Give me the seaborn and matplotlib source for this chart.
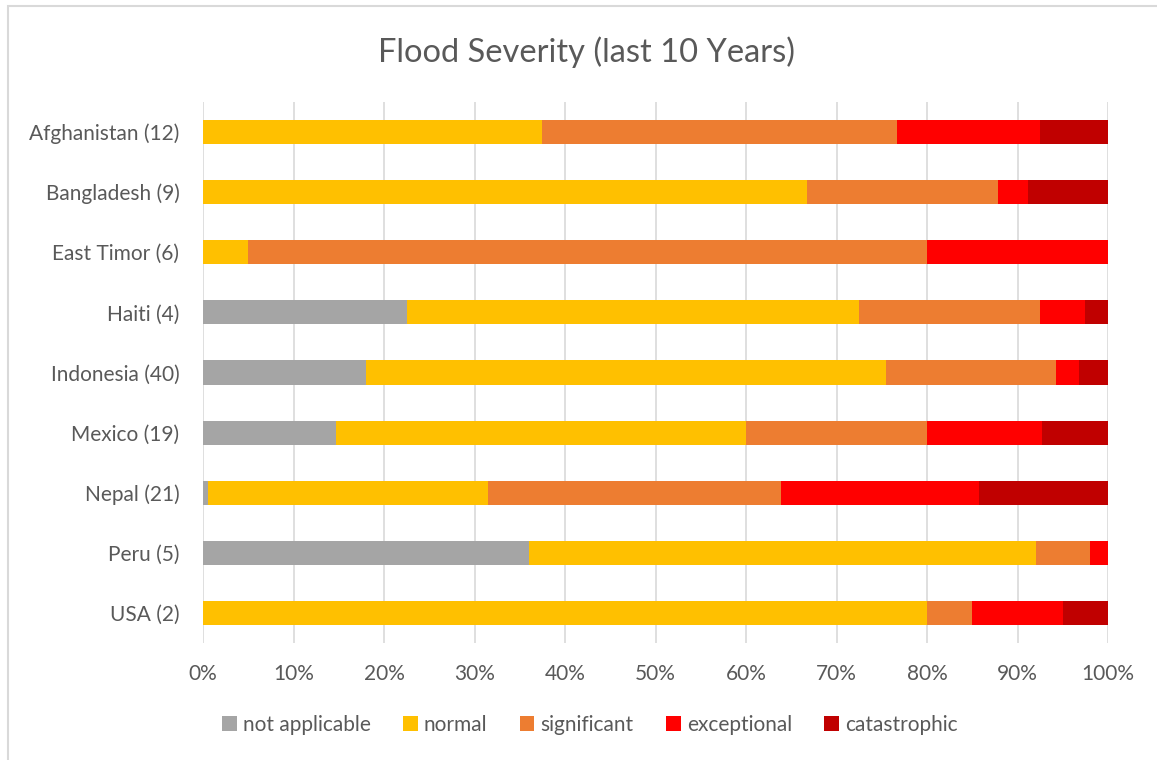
import matplotlib
matplotlib.use("Agg")
import matplotlib.pyplot as plt
import seaborn as sns
import numpy as np
import pandas as pd
from matplotlib.patches import Rectangle, Patch

# Share of flood events per severity class (percent of each country's events)
countries = ["Afghanistan (12)", "Bangladesh (9)", "East Timor (6)", "Haiti (4)",
             "Indonesia (40)", "Mexico (19)", "Nepal (21)", "Peru (5)", "USA (2)"]
not_applicable = [0.0, 0.0, 0.0, 22.5, 18.0, 14.7, 0.5, 36.0, 0.0]
normal = [37.5, 66.7, 5.0, 50.0, 57.5, 45.3, 31.0, 56.0, 80.0]
significant = [39.2, 21.1, 75.0, 20.0, 18.8, 20.0, 32.4, 6.0, 5.0]
exceptional = [15.8, 3.4, 20.0, 5.0, 2.5, 12.7, 21.9, 2.0, 10.0]
catastrophic = [7.5, 8.8, 0.0, 2.5, 3.2, 7.3, 14.2, 0.0, 5.0]

series_names = ["not applicable", "normal", "significant", "exceptional", "catastrophic"]
series_values = [not_applicable, normal, significant, exceptional, catastrophic]
colors = ["#A5A5A5", "#FFC000", "#ED7D31", "#FF0000", "#C00000"]
x_ticks = [0, 10, 20, 30, 40, 50, 60, 70, 80, 90, 100]

sns.set_theme(style="white")
plt.rcParams["font.family"] = ["Lato", "DejaVu Sans"]
text_color = "#595959"

df = pd.DataFrame({name: vals for name, vals in zip(series_names, series_values)})
df["country"] = countries
cum = df[series_names].cumsum(axis=1)

fig = plt.figure(figsize=(11.57, 7.6), dpi=100)
ax = fig.add_axes([203 / 1157, 1 - 643 / 760, (1108 - 203) / 1157, (643 - 102) / 760])

# Stacked bars: draw cumulative totals from the outermost class inward
for name, color in reversed(list(zip(series_names, colors))):
    sns.barplot(x=cum[name], y=df["country"], orient="h", color=color,
                width=0.4, linewidth=0, saturation=1, ax=ax, zorder=3)

ax.set_xlim(0, 100)
ax.set_ylim(8.5, -0.5)
ax.set_xticks(x_ticks)
ax.set_xticklabels([f"{t}%" for t in x_ticks])
ax.set_xlabel("")
ax.set_ylabel("")
ax.grid(axis="x", color="#D9D9D9", linewidth=1.2, zorder=0)
ax.grid(axis="y", visible=False)
for s in ax.spines.values():
    s.set_visible(False)
ax.tick_params(axis="both", length=0, labelsize=15, labelcolor=text_color)
ax.tick_params(axis="x", pad=15)
ax.tick_params(axis="y", pad=17)

fig.text(586 / 1157, 1 - 52 / 760, "Flood Severity (last 10 Years)", ha="center", va="center",
         fontsize=23.5, color=text_color)

handles = [Patch(facecolor=c, edgecolor="none") for c in colors]
fig.legend(handles, series_names, loc="center", bbox_to_anchor=(590 / 1157, 1 - 725 / 760),
           ncol=5, frameon=False, fontsize=15, labelcolor=text_color,
           handlelength=0.7, handleheight=0.7, handletextpad=0.3, columnspacing=1.55)

# Outer chart border
fig.add_artist(Rectangle((8 / 1157, -0.1), 1.2, 1.1 - 6 / 760, transform=fig.transFigure,
                         fill=False, edgecolor="#D9D9D9", linewidth=1.5))

fig.savefig("out.png", dpi=100)
